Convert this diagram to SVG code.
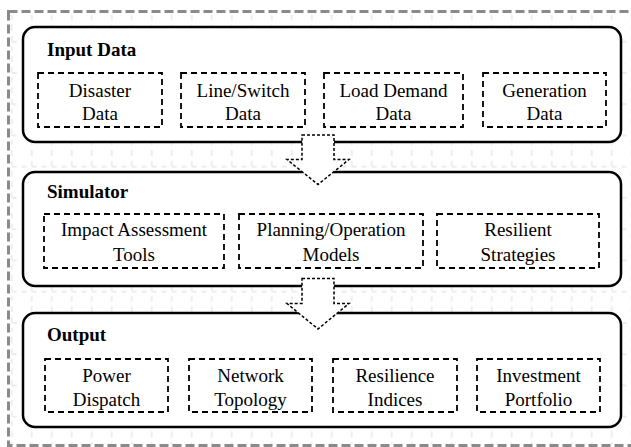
<svg xmlns="http://www.w3.org/2000/svg" width="631" height="447" viewBox="0 0 631 447">
  <style>
    .frame { fill: none; stroke: #8a8a8a; stroke-width: 3; stroke-dasharray: 9 4; }
    .grid-line { stroke: #dcdcdc; stroke-width: 1; stroke-dasharray: 5 5; }
    .panel { fill: #ffffff; stroke: #000000; stroke-width: 2.5; }
    .item { fill: #ffffff; stroke: #000000; stroke-width: 1.8; stroke-dasharray: 6 4; }
    .flow { fill: #ffffff; stroke: #000000; stroke-width: 1.5; stroke-dasharray: 3 2; stroke-linejoin: miter; }
    text { font-family: 'Liberation Serif', 'Times New Roman', Times, Tinos, 'Nimbus Roman', 'Nimbus Roman No9 L', 'Noto Serif', 'DejaVu Serif', FreeSerif, Georgia, 'Noto Serif CJK SC', serif; font-size: 19px; fill: #000; }
    .title { font-weight: bold; }
    .label { text-anchor: middle; }
  </style>
  <defs>
    <pattern id="bg-grid" patternUnits="userSpaceOnUse" x="1.7" y="-5.175" width="20" height="31.25">
      <line class="grid-line" x1="10" y1="0" x2="10" y2="31.25"/>
      <line class="grid-line" x1="0" y1="15.625" x2="20" y2="15.625"/>
    </pattern>
  </defs>

  <rect x="0" y="0" width="631" height="447" fill="#ffffff"/>
  <!-- background grid and outer frame -->
  <rect x="9" y="12" width="622" height="433" fill="url(#bg-grid)"/>
  <rect class="frame" x="8.5" y="11.5" width="630" height="434"/>

  <!-- Input Data panel -->
  <g id="input-data">
    <rect class="panel" x="23" y="27" width="598" height="115" rx="12"/>
    <text class="title" x="47" y="56">Input Data</text>
    <g id="disaster-data">
      <rect class="item" x="38" y="73" width="124" height="54"/>
      <text class="label" x="100" y="97">Disaster</text>
      <text class="label" x="100" y="120">Data</text>
    </g>
    <g id="line-switch-data">
      <rect class="item" x="181" y="73" width="124" height="54"/>
      <text class="label" x="243" y="97">Line/Switch</text>
      <text class="label" x="243" y="120">Data</text>
    </g>
    <g id="load-demand-data">
      <rect class="item" x="324" y="73" width="139" height="54"/>
      <text class="label" x="393.5" y="97">Load Demand</text>
      <text class="label" x="393.5" y="120">Data</text>
    </g>
    <g id="generation-data">
      <rect class="item" x="483" y="73" width="123" height="54"/>
      <text class="label" x="544.5" y="97">Generation</text>
      <text class="label" x="544.5" y="120">Data</text>
    </g>
  </g>

  <!-- Simulator panel -->
  <g id="simulator">
    <rect class="panel" x="23" y="172" width="598" height="114" rx="12"/>
    <text class="title" x="47" y="198">Simulator</text>
    <g id="impact-assessment-tools">
      <rect class="item" x="44" y="214" width="180" height="54"/>
      <text class="label" x="134" y="236">Impact Assessment</text>
      <text class="label" x="134" y="261">Tools</text>
    </g>
    <g id="planning-operation-models">
      <rect class="item" x="239" y="214" width="184" height="54"/>
      <text class="label" x="331" y="236">Planning/Operation</text>
      <text class="label" x="331" y="261">Models</text>
    </g>
    <g id="resilient-strategies">
      <rect class="item" x="437" y="214" width="162" height="54"/>
      <text class="label" x="518" y="236">Resilient</text>
      <text class="label" x="518" y="261">Strategies</text>
    </g>
  </g>

  <!-- Output panel -->
  <g id="output">
    <rect class="panel" x="23" y="313" width="598" height="114" rx="12"/>
    <text class="title" x="47" y="341">Output</text>
    <g id="power-dispatch">
      <rect class="item" x="45" y="359" width="123" height="53"/>
      <text class="label" x="106.5" y="382">Power</text>
      <text class="label" x="106.5" y="406">Dispatch</text>
    </g>
    <g id="network-topology">
      <rect class="item" x="189" y="359" width="123" height="53"/>
      <text class="label" x="250.5" y="382">Network</text>
      <text class="label" x="250.5" y="406">Topology</text>
    </g>
    <g id="resilience-indices">
      <rect class="item" x="333" y="359" width="124" height="53"/>
      <text class="label" x="395" y="382">Resilience</text>
      <text class="label" x="395" y="406">Indices</text>
    </g>
    <g id="investment-portfolio">
      <rect class="item" x="477" y="359" width="123" height="53"/>
      <text class="label" x="538.5" y="382">Investment</text>
      <text class="label" x="538.5" y="406">Portfolio</text>
    </g>
  </g>

  <!-- flow arrows between panels -->
  <g id="connectors">
    <polygon class="flow" points="302,135 334,135 334,159.5 349,159.5 318,184.5 287,159.5 302,159.5"/>
    <polygon class="flow" points="302,278.5 334,278.5 334,303.5 349,303.5 318,329 287,303.5 302,303.5"/>
  </g>
</svg>
